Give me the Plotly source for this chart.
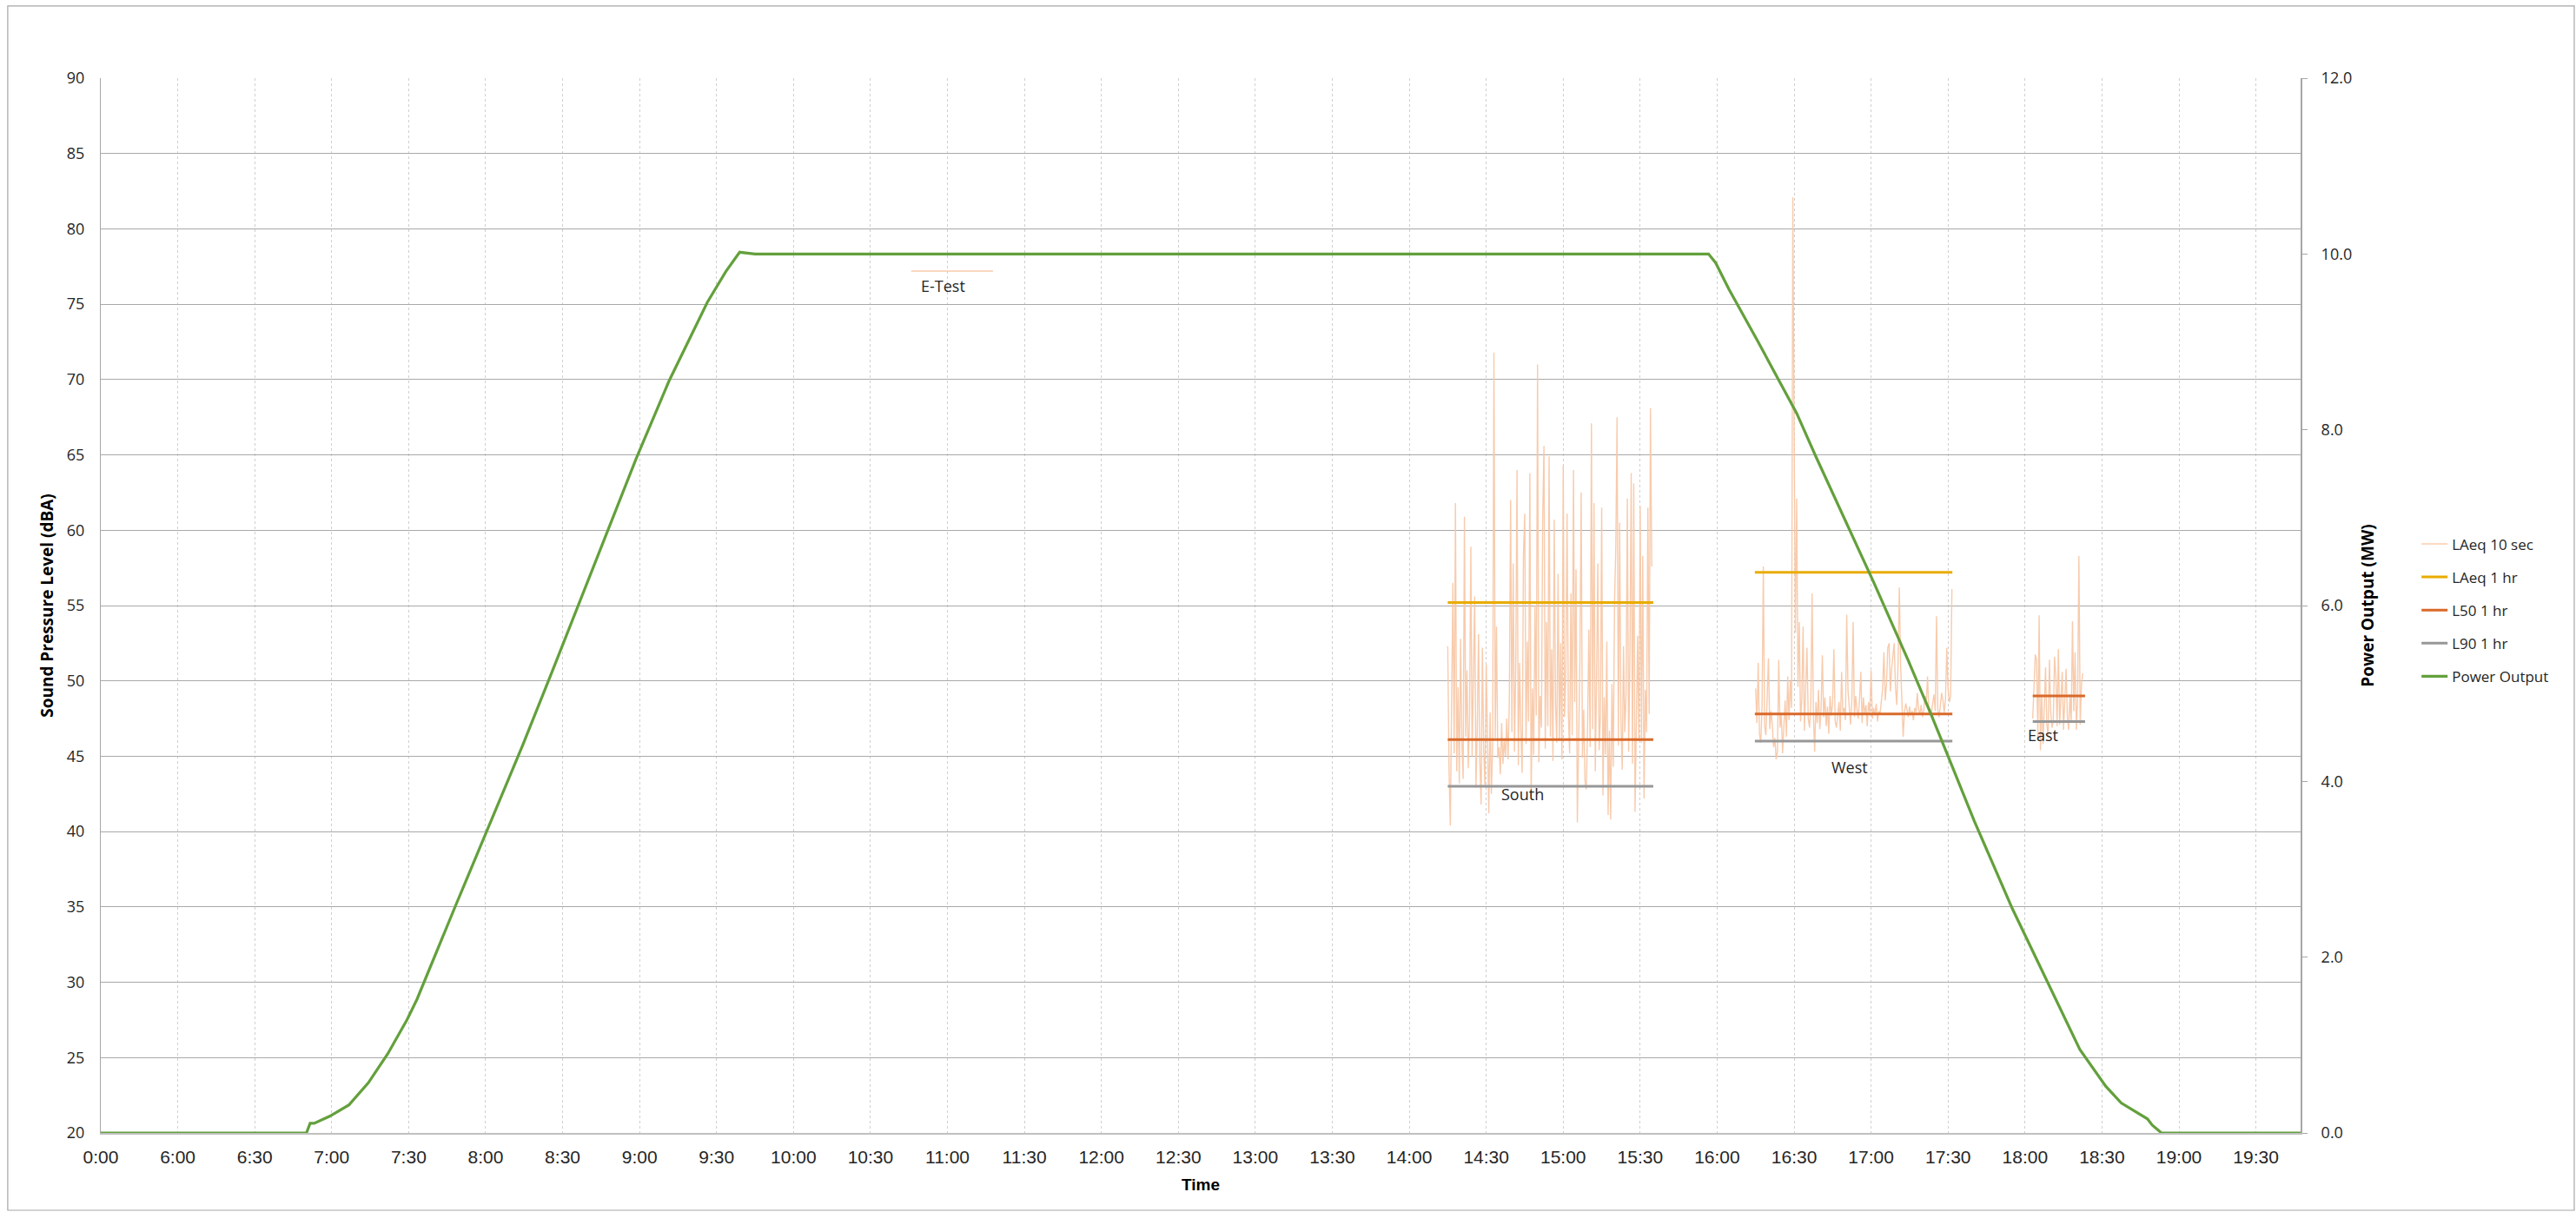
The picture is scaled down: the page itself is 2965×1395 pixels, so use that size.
import plotly.graph_objects as go

# ---------------------------------------------------------------------------
# Time axis (decimal hours). The first gridline carries the label "0:00".
# ---------------------------------------------------------------------------
tick_hours = [5.5 + 0.5 * i for i in range(29)]
tick_labels = ["0:00", "6:00", "6:30", "7:00", "7:30", "8:00", "8:30", "9:00",
               "9:30", "10:00", "10:30", "11:00", "11:30", "12:00", "12:30",
               "13:00", "13:30", "14:00", "14:30", "15:00", "15:30", "16:00",
               "16:30", "17:00", "17:30", "18:00", "18:30", "19:00", "19:30"]

# ---------------------------------------------------------------------------
# Power output (MW) over the day
# ---------------------------------------------------------------------------
power_time = [5.5, 6.836, 6.86, 6.886, 6.987, 7.113, 7.238, 7.364, 7.49, 7.554,
              7.801, 8.025, 8.238, 8.43, 8.60, 8.79, 8.975, 9.19, 9.44, 9.56,
              9.65, 9.75, 10.3, 12.0, 14.0, 15.944, 15.99, 16.076, 16.26, 16.516,
              16.64, 16.866, 17.018, 17.24, 17.39, 17.52, 17.67, 17.918, 18.175,
              18.356, 18.525, 18.625, 18.795, 18.826, 18.886, 19.79]
power_mw = [0.0, 0.0, 0.11, 0.11, 0.19, 0.32, 0.57, 0.90, 1.29, 1.52,
            2.57, 3.50, 4.40, 5.24, 6.00, 6.84, 7.66, 8.55, 9.45, 9.80,
            10.02, 10.0, 10.0, 10.0, 10.0, 10.0, 9.90, 9.60, 9.02, 8.19,
            7.70, 6.85, 6.26, 5.38, 4.76, 4.20, 3.55, 2.55, 1.62,
            0.95, 0.53, 0.34, 0.16, 0.09, 0.0, 0.0]

# ---------------------------------------------------------------------------
# LAeq 10 sec measurements (dBA), one reading every 30 s
# ---------------------------------------------------------------------------
sample_step_h = 30.0 / 3600.0

etest_time = [10.765, 10.9, 11.03, 11.16, 11.296]
etest_laeq = [77.2, 77.2, 77.2, 77.2, 77.2]

south_start = 14.25
south_laeq = [
    52.3, 44.1, 40.4, 47.5, 56.5, 45.2, 61.8, 44.0, 49.6, 43.2, 52.8, 45.9, 43.5, 60.9, 46.3, 50.7, 44.2, 47.8, 58.9, 45.0,
    49.3, 55.6, 42.9, 46.8, 53.1, 44.7, 41.8, 52.2, 45.5, 43.0, 51.1, 44.6, 41.2, 47.9, 42.5, 45.8, 71.8, 46.2, 53.6, 44.9,
    45.6, 43.8, 47.2, 44.5, 46.1, 45.0, 47.5, 44.8, 48.7, 62.0, 46.6, 57.8, 45.3, 50.9, 64.0, 44.4, 51.2, 46.7, 43.9, 58.3,
    61.1, 45.8, 52.6, 47.3, 63.8, 42.2, 49.5, 45.1, 55.0, 47.7, 71.0, 44.6, 49.0, 46.9, 60.7, 65.6, 45.5, 53.9, 47.0, 64.9,
    46.3, 52.1, 44.7, 60.7, 48.4, 45.9, 57.1, 46.0, 52.5, 44.8, 64.3, 47.6, 50.3, 61.1, 47.9, 45.2, 55.8, 46.4, 64.0, 48.6,
    57.4, 40.6, 46.2, 51.3, 62.5, 44.9, 48.1, 43.3, 42.8, 47.0, 53.4, 45.6, 67.1, 46.8, 61.8, 44.0, 50.2, 57.8, 45.4, 47.7,
    61.5, 42.4, 48.9, 45.1, 52.6, 41.1, 46.7, 40.8, 49.8, 44.3, 55.2, 58.9, 67.5, 45.7, 60.5, 47.4, 44.1, 52.3, 46.6, 49.1,
    62.1, 45.3, 51.7, 63.8, 44.5, 63.1, 41.3, 48.2, 53.0, 46.0, 61.6, 45.9, 58.3, 42.2, 49.4, 46.6, 61.5, 47.8, 68.1, 57.6,
]

west_start = 16.25
west_laeq = [
    49.5, 47.2, 51.2, 46.5, 45.9, 48.3, 57.6, 47.0, 46.4, 49.1, 51.5, 46.8, 48.0, 47.1, 45.6, 46.2, 44.8, 45.3, 51.4, 46.9,
    47.8, 45.2, 46.6, 48.7, 46.3, 50.3, 47.4, 50.0, 48.2, 82.1, 66.5, 53.2, 62.1, 49.6, 53.9, 47.3, 48.8, 53.6, 46.7, 49.2,
    52.2, 47.5, 46.9, 48.4, 55.8, 47.9, 45.3, 48.6, 47.2, 49.4, 46.8, 48.1, 51.7, 47.6, 48.9, 47.0, 48.3, 46.5, 49.0, 47.7,
    48.5, 52.1, 47.3, 46.9, 47.8, 48.6, 46.7, 50.6, 47.9, 48.2, 47.4, 54.4, 49.4, 48.0, 47.1, 48.7, 53.9, 47.6, 49.0, 48.1,
    47.5, 48.8, 50.6, 47.2, 48.9, 47.8, 48.4, 47.0, 48.6, 47.9, 50.7, 47.5, 48.2, 47.7, 48.5, 47.3, 48.0, 47.8, 48.9, 49.5,
    51.9, 48.7, 49.8, 52.2, 52.5, 49.3, 50.8, 51.7, 52.5, 49.6, 48.4, 51.1, 56.2, 51.1, 48.0, 46.3, 47.9, 48.5, 48.1, 47.6,
    48.3, 47.7, 48.0, 47.4, 48.2, 47.9, 49.2, 48.1, 47.8, 48.4, 47.6, 48.0, 49.0, 48.6, 50.3, 47.9, 48.2, 47.8, 48.5, 49.1,
    48.0, 54.3, 48.1, 47.6, 48.4, 49.2, 48.7, 47.9, 48.8, 52.2, 49.5, 48.6, 49.0, 56.1,
]

east_start = 18.05
east_laeq = [
    47.5, 49.8, 51.75, 51.4, 46.2, 54.35, 45.4, 49.1, 45.8, 48.2,
    50.9, 47.1, 46.3, 51.4, 48.0, 46.9, 47.3, 51.6, 50.4, 47.0,
    52.1, 47.1, 48.5, 50.6, 46.75, 48.9, 50.8, 47.6, 46.75, 49.1,
    47.2, 53.96, 48.0, 51.9, 46.75, 48.8, 58.3, 47.1, 49.8, 50.5,
]

# ---------------------------------------------------------------------------
# Hourly statistics per measurement location (dBA)
# ---------------------------------------------------------------------------
locations = ["South", "West", "East"]
location_span = {"South": (14.25, 15.585), "West": (16.245, 17.528), "East": (18.05, 18.39)}
laeq_1hr = {"South": 55.2, "West": 57.2}
l50_1hr = {"South": 46.1, "West": 47.8, "East": 49.0}
l90_1hr = {"South": 43.0, "West": 46.0, "East": 47.3}

# Location / test labels: (text, hour, dBA)
place_labels = [("E-Test", 10.97, 76.2), ("South", 14.736, 42.5),
                ("West", 16.86, 44.3), ("East", 18.116, 46.4)]


def sampled_times(start, values):
    return [start + i * sample_step_h for i in range(len(values))]


def join_segments(segments):
    xs, ys = [], []
    for sx, sy in segments:
        if xs:
            xs.append(None)
            ys.append(None)
        xs.extend(sx)
        ys.extend(sy)
    return xs, ys


def hourly_segments(stat):
    segs = []
    for loc in locations:
        if loc in stat:
            t0, t1 = location_span[loc]
            segs.append(([t0, t1], [stat[loc], stat[loc]]))
    return join_segments(segs)


laeq10_x, laeq10_y = join_segments([
    (etest_time, etest_laeq),
    (sampled_times(south_start, south_laeq), south_laeq),
    (sampled_times(west_start, west_laeq), west_laeq),
    (sampled_times(east_start, east_laeq), east_laeq),
])

FONT = "Open Sans, Noto Sans, Liberation Sans, sans-serif"
NARROW = "Liberation Sans Narrow, Arial Narrow, Liberation Sans, sans-serif"
TEXT = "#262626"

fig = go.Figure()

fig.add_trace(go.Scatter(
    x=laeq10_x, y=laeq10_y, mode="lines", name="LAeq 10 sec",
    legendgroup="a", connectgaps=False,
    line=dict(color="#F8C6A4", width=1.4), opacity=0.9,
))

for name, stat, colour, grp in [("LAeq 1 hr", laeq_1hr, "#E8AC00", "b"),
                                ("L50 1 hr", l50_1hr, "#D9692A", "c"),
                                ("L90 1 hr", l90_1hr, "#979797", "d")]:
    hx, hy = hourly_segments(stat)
    fig.add_trace(go.Scatter(
        x=hx, y=hy, mode="lines", name=name, legendgroup=grp,
        connectgaps=False, line=dict(color=colour, width=3),
    ))

fig.add_trace(go.Scatter(
    x=power_time, y=power_mw, mode="lines", name="Power Output",
    legendgroup="e", yaxis="y2", cliponaxis=False,
    line=dict(color="#63A03C", width=3.2),
))

for text, hx, hy in place_labels:
    fig.add_annotation(x=hx, y=hy, text=text, showarrow=False,
                       font=dict(family=FONT, size=18, color=TEXT))

# chart-area border
fig.add_shape(type="rect", xref="paper", yref="paper",
              x0=-0.0423, x1=1.1244, y0=-0.0733, y1=1.0684,
              line=dict(color="#a6a6a6", width=1.2), layer="below")

fig.update_layout(
    width=2965, height=1395,
    margin=dict(l=116, r=317, t=90, b=91),
    paper_bgcolor="white", plot_bgcolor="white",
    font=dict(family=FONT, color=TEXT),
    showlegend=True,
    legend=dict(x=1.053, y=0.573, xanchor="left", yanchor="top",
                traceorder="grouped", tracegroupgap=13,
                font=dict(family=FONT, size=17, color=TEXT),
                bgcolor="rgba(0,0,0,0)"),
    xaxis=dict(
        range=[5.5, 19.79], tickmode="array", tickvals=tick_hours, ticktext=tick_labels,
        showgrid=True, gridcolor="#cfcfcf", gridwidth=1, griddash="dot",
        showline=True, linecolor="#c0c0c0", linewidth=2, ticks="",
        zeroline=False, ticklabelstandoff=8,
        tickfont=dict(family=NARROW, size=21, color=TEXT),
        title=dict(text="<b>Time</b>", standoff=14,
                   font=dict(family=NARROW, size=19, color="#000000")),
    ),
    yaxis=dict(
        range=[20, 90], dtick=5, tick0=20,
        showgrid=True, gridcolor="#a9a9a9", gridwidth=1.3,
        showline=True, linecolor="#a6a6a6", linewidth=1.3, ticks="",
        zeroline=False, ticklabelstandoff=14,
        tickfont=dict(family=FONT, size=18, color=TEXT),
        title=dict(text="<b>Sound Pressure Level (dBA)</b>", standoff=10,
                   font=dict(family=FONT, size=19, color="#000000")),
    ),
    yaxis2=dict(
        range=[0, 12], dtick=2, tick0=0, tickformat=".1f",
        overlaying="y", side="right", showgrid=False, zeroline=False,
        showline=True, linecolor="#a6a6a6", linewidth=2,
        ticks="outside", ticklen=6, tickcolor="#a6a6a6", tickwidth=1.3,
        ticklabelstandoff=12,
        tickfont=dict(family=FONT, size=18, color=TEXT),
        title=dict(text="<b>Power Output (MW)</b>", standoff=12,
                   font=dict(family=FONT, size=19, color="#000000")),
    ),
)

fig.write_html("out.html")
